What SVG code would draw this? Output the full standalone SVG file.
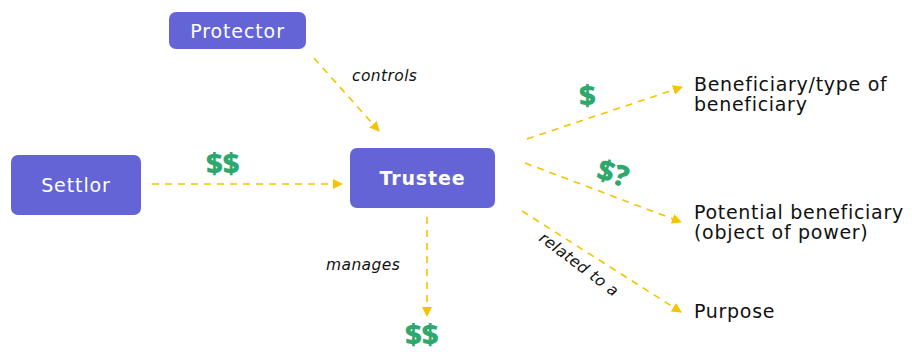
<svg xmlns="http://www.w3.org/2000/svg" width="912" height="352" viewBox="0 0 912 352">
<defs>
<marker id="arr" viewBox="0 0 10 10" refX="9" refY="5" markerWidth="10" markerHeight="10" markerUnits="userSpaceOnUse" orient="auto">
<path d="M0,0 L10,5 L0,10 z" fill="#f5c400"/>
</marker>
<style>
.box{fill:#6464d6;}
.bt{font-family:"DejaVu Sans","Liberation Sans",sans-serif;font-size:19px;letter-spacing:0.9px;fill:#ffffff;text-anchor:middle;}
.conn{stroke:#f5c400;stroke-width:1.6;stroke-dasharray:7 6;fill:none;marker-end:url(#arr);}
.lbl{font-family:"DejaVu Sans","Liberation Sans",sans-serif;font-size:15.5px;letter-spacing:0.4px;font-style:italic;fill:#111;}
.money{font-family:"Open Sans","Liberation Sans",sans-serif;font-size:29px;font-weight:800;fill:#2ea86d;}
.tgt{font-family:"DejaVu Sans","Liberation Sans",sans-serif;font-size:19px;letter-spacing:0.7px;fill:#111;}
</style>
</defs>
<rect width="912" height="352" fill="#ffffff"/>
<g id="connectors">
<path class="conn" d="M152,184 L342,184"/>
<path class="conn" d="M314,58 L379,131"/>
<path class="conn" d="M527,139 L682,87"/>
<path class="conn" d="M525,163 L681,222"/>
<path class="conn" d="M522,211 L681,312"/>
<path class="conn" d="M427,217 L427,316"/>
<text class="lbl" x="352" y="81">controls</text>
<text class="lbl" x="326" y="270">manages</text>
<text class="lbl" transform="translate(538,240) rotate(37)">related to a</text>
<text class="money" x="206" y="174">$$</text>
<text class="money" x="579" y="106">$</text>
<text class="money" transform="translate(595,178) rotate(18)">$?</text>
<text class="money" x="405" y="345">$$</text>
</g>
<g id="protector">
<rect class="box" x="169" y="12" width="137" height="37" rx="7"/>
<text class="bt" x="237.5" y="37.5">Protector</text>
</g>
<g id="settlor">
<rect class="box" x="11" y="155" width="130" height="60" rx="7"/>
<text class="bt" x="76" y="192">Settlor</text>
</g>
<g id="trustee">
<rect class="box" x="350" y="148" width="145" height="60" rx="7"/>
<text class="bt" x="422.5" y="184.5" font-weight="bold">Trustee</text>
</g>
<g id="beneficiary">
<text class="tgt" x="694" y="91">Beneficiary/type of</text>
<text class="tgt" x="694" y="111">beneficiary</text>
</g>
<g id="potential">
<text class="tgt" x="694" y="219">Potential beneficiary</text>
<text class="tgt" x="694" y="239">(object of power)</text>
</g>
<g id="purpose">
<text class="tgt" x="694" y="318">Purpose</text>
</g>
</svg>
